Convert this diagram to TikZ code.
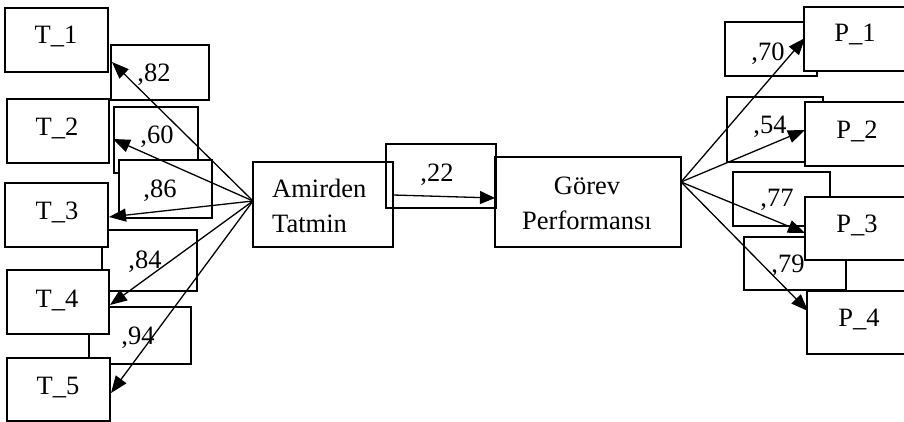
\documentclass[tikz,border=0pt]{standalone}
\usepackage{fontspec}
\setmainfont{Liberation Serif}
\usetikzlibrary{arrows.meta}
\begin{document}
\begin{tikzpicture}[x=1pt,y=-1pt,
  bx/.style={draw, line width=1.4pt, fill=white},
  bxo/.style={draw, line width=1.4pt},
  txt/.style={anchor=base, inner sep=0pt, font=\fontsize{26.5}{30}\selectfont},
  txtl/.style={anchor=base west, inner sep=0pt, font=\fontsize{26.5}{30}\selectfont},
  arr/.style={line width=1.3pt, -{Triangle[length=17pt,width=13pt]}},
  arrs/.style={line width=1.3pt, -{Triangle[length=15pt,width=13pt]}}]
\useasboundingbox (0,0) rectangle (904,422);
\clip (0,0) rectangle (904,422);
% left label boxes (under T boxes)
\draw[bx] (111,45) rectangle (209,100); \node[txt] (l82) at (154,82) {,82};
\draw[bx] (114,107) rectangle (198,173); \node[txt] (l60) at (157,144) {,60};
\draw[bx] (119,160) rectangle (212,218); \node[txt] (l86) at (160,197) {,86};
\draw[bx] (102,230) rectangle (197,291); \node[txt] (l84) at (145,268) {,84};
\draw[bx] (89,307) rectangle (191,364); \node[txt] (l94) at (138,344) {,94};
% T boxes
\draw[bx] (5,8) rectangle (108,72); \node[txt] (t1) at (56,43.5) {T\_1};
\draw[bx] (7,99) rectangle (109,163); \node[txt] (t2) at (57,135.5) {T\_2};
\draw[bx] (5,183) rectangle (108,247); \node[txt] (t3) at (57,219) {T\_3};
\draw[bx] (7,270) rectangle (109,334); \node[txt] (t4) at (57,307) {T\_4};
\draw[bx] (7,358) rectangle (110,421); \node[txt] (t5) at (58,394) {T\_5};
% centre boxes
\draw[bxo] (253,162) rectangle (393,247);
\node[txtl] (a1) at (272,197) {Amirden};
\node[txtl] (a2) at (272,232) {Tatmin};
\draw[bxo] (495,157) rectangle (681,247);
\node[txt] (g1) at (587,194) {Görev};
\node[txt] (g2) at (587,229) {Performansı};
\draw[bxo] (386,144) rectangle (496,208); \node[txt] (l22) at (437,182) {,22};
% right label boxes
\draw[bx] (725,22) rectangle (817,76); \node[txt] (l70) at (768,61) {,70};
\draw[bx] (727,97) rectangle (823,162); \node[txt] (l54) at (770,134) {,54};
\draw[bx] (733,172) rectangle (830,226); \node[txt] (l77) at (777,207) {,77};
\draw[bx] (744,237) rectangle (846,290); \node[txt] (l79) at (788,272) {,79};
% P boxes
\draw[bx] (804,7) rectangle (930,71); \node[txt] (p1) at (855,42) {P\_1};
\draw[bx] (805,102) rectangle (930,166); \node[txt] (p2) at (857,139) {P\_2};
\draw[bx] (805,197) rectangle (930,260); \node[txt] (p3) at (857,232) {P\_3};
\draw[bx] (807,291) rectangle (930,354); \node[txt] (p4) at (859,326) {P\_4};
% connector points
\coordinate (aL) at (253,201);
\coordinate (aR) at (393,195);
\coordinate (gL) at (495,198);
\coordinate (gR) at (681,182);
\coordinate (e1) at (112,62);
\coordinate (e2) at (113,139);
\coordinate (e3) at (109,217);
\coordinate (e4) at (110,305);
\coordinate (e5) at (111,393);
\coordinate (f1) at (805,38);
\coordinate (f2) at (805,130);
\coordinate (f3) at (805,233);
\coordinate (f4) at (808,311);
% arrows
\foreach \e in {e1,e2,e3,e4,e5} \draw[arr] (aL) -- (\e);
\foreach \f in {f1,f2,f3,f4} \draw[arr] (gR) -- (\f);
\draw[arrs] (aR) -- (gL);
\end{tikzpicture}
\end{document}
